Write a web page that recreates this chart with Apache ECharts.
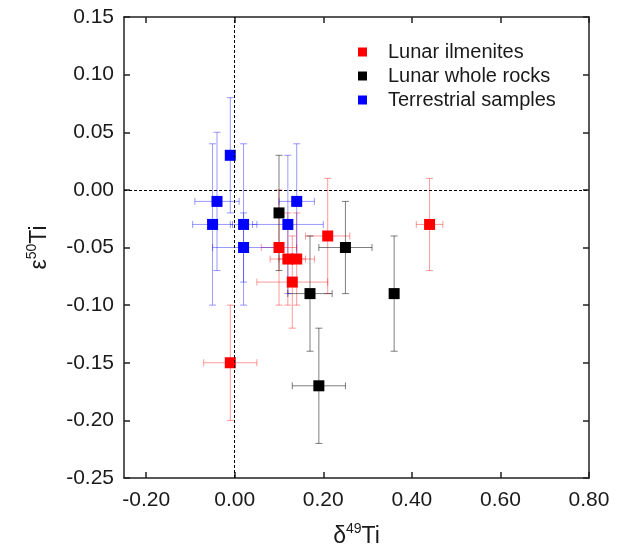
<!DOCTYPE html>
<html>
<head>
<meta charset="utf-8">
<script src="https://cdn.jsdelivr.net/npm/echarts@6/dist/echarts.min.js"></script>
<style>
  html, body { margin: 0; padding: 0; background: #fff; }
  #chart_ti { width: 619px; height: 552px; }
</style>
</head>
<body>
<div id="chart_ti"></div>
<script>
// each row: [δ49Ti, ε50Ti, δ49Ti error, ε50Ti error]
var lunarIlmenites = [
    [0.10, -0.05, 0.04, 0.05],
    [0.12, -0.06, 0.04, 0.04],
    [0.14, -0.06, 0.04, 0.04],
    [0.13, -0.08, 0.08, 0.04],
    [0.21, -0.04, 0.05, 0.05],
    [0.44, -0.03, 0.03, 0.04],
    [-0.01, -0.15, 0.06, 0.05]
];
var lunarWholeRocks = [
    [0.10, -0.02, 0, 0.05],
    [0.25, -0.05, 0.06, 0.04],
    [0.17, -0.09, 0.05, 0.05],
    [0.19, -0.17, 0.06, 0.05],
    [0.36, -0.09, 0, 0.05]
];
var terrestrialSamples = [
    [-0.01, 0.03, 0, 0.05],
    [-0.04, -0.01, 0.05, 0.06],
    [-0.05, -0.03, 0.045, 0.07],
    [0.02, -0.03, 0.03, 0.07],
    [0.02, -0.05, 0.07, 0.03],
    [0.12, -0.03, 0.08, 0.06],
    [0.14, -0.01, 0.04, 0.05]
];
var xTicks = [-0.20, 0.00, 0.20, 0.40, 0.60, 0.80];

var myChart = echarts.init(document.getElementById('chart_ti'));
var font = 'Liberation Sans, Arial, sans-serif';

// 误差棒
function errorBars(color) {
    return function (params, api) {
        var x = api.value(0), y = api.value(1), ex = api.value(2), ey = api.value(3);
        var cap = 3.5;
        var style = { stroke: color, lineWidth: 1 };
        var kids = [];
        if (ex > 0) {
            var l = api.coord([x - ex, y]), r = api.coord([x + ex, y]);
            kids.push({ type: 'line', shape: { x1: l[0], y1: l[1], x2: r[0], y2: r[1] }, style: style });
            kids.push({ type: 'line', shape: { x1: l[0], y1: l[1] - cap, x2: l[0], y2: l[1] + cap }, style: style });
            kids.push({ type: 'line', shape: { x1: r[0], y1: r[1] - cap, x2: r[0], y2: r[1] + cap }, style: style });
        }
        if (ey > 0) {
            var t = api.coord([x, y + ey]), b = api.coord([x, y - ey]);
            kids.push({ type: 'line', shape: { x1: t[0], y1: t[1], x2: b[0], y2: b[1] }, style: style });
            kids.push({ type: 'line', shape: { x1: t[0] - cap, y1: t[1], x2: t[0] + cap, y2: t[1] }, style: style });
            kids.push({ type: 'line', shape: { x1: b[0] - cap, y1: b[1], x2: b[0] + cap, y2: b[1] }, style: style });
        }
        return { type: 'group', children: kids };
    };
}

var groups = [
    ['Lunar ilmenites', lunarIlmenites, '#ff0000', 'rgba(255,0,0,0.4)'],
    ['Lunar whole rocks', lunarWholeRocks, '#000000', 'rgba(0,0,0,0.5)'],
    ['Terrestrial samples', terrestrialSamples, '#0000ff', 'rgba(0,0,255,0.4)']
];

var series = [];
groups.forEach(function (g) {
    series.push({
        type: 'custom',
        renderItem: errorBars(g[3]),
        encode: { x: 0, y: 1 },
        data: g[1],
        silent: true,
        z: 2
    });
});
groups.forEach(function (g) {
    series.push({
        name: g[0],
        type: 'scatter',
        symbol: 'rect',
        symbolSize: 11,
        itemStyle: { color: g[2], opacity: 1 },
        data: g[1].map(function (d) { return [d[0], d[1]]; }),
        z: 3
    });
});
// 零线
series[0].markLine = {
    silent: true,
    symbol: 'none',
    label: { show: false },
    lineStyle: { color: '#000', type: [3, 2], width: 1 },
    data: [{ xAxis: 0 }, { yAxis: 0 }]
};

var axisCommon = {
    axisLine: { show: true, onZero: false, lineStyle: { color: '#222', width: 1.5 } },
    axisTick: { show: true, inside: true, length: 6, lineStyle: { color: '#222', width: 1.5 } },
    splitLine: { show: false },
    axisLabel: { color: '#1a1a1a', fontSize: 21, fontFamily: font }
};
var nameRich = {
    g: { fontSize: 23, fontFamily: font, color: '#1a1a1a' },
    s: { fontSize: 14, fontFamily: font, color: '#1a1a1a', padding: [0, 0, 16, 0] },
    t: { fontSize: 23, fontFamily: font, color: '#1a1a1a' }
};

var option = {
    animation: false,
    backgroundColor: '#fff',
    grid: { left: 124, right: 30, top: 17, bottom: 74, outerBoundsMode: 'none', containLabel: false },
    legend: {
        orient: 'vertical',
        left: 353,
        top: 37,
        itemWidth: 9,
        itemHeight: 9,
        itemGap: 4,
        icon: 'rect',
        textStyle: { fontSize: 20, fontFamily: font, color: '#1a1a1a', padding: [0, 0, 0, 16] },
        data: groups.map(function (g) { return g[0]; })
    },
    xAxis: [
        Object.assign({}, axisCommon, {
            type: 'value', min: -0.25, max: 0.80, position: 'bottom',
            axisTick: Object.assign({}, axisCommon.axisTick, { customValues: xTicks }),
            axisLabel: Object.assign({}, axisCommon.axisLabel, {
                customValues: xTicks, margin: 12,
                formatter: function (v) { return v.toFixed(2); }
            }),
            name: '{g|δ}{s|49}{t|Ti}',
            nameLocation: 'middle',
            nameGap: 44,
            nameTextStyle: { rich: nameRich }
        }),
        Object.assign({}, axisCommon, {
            type: 'value', min: -0.25, max: 0.80, position: 'top',
            axisTick: Object.assign({}, axisCommon.axisTick, { customValues: xTicks }),
            axisLabel: { show: false }
        })
    ],
    yAxis: [
        Object.assign({}, axisCommon, {
            type: 'value', min: -0.25, max: 0.15, interval: 0.05, position: 'left',
            axisLabel: Object.assign({}, axisCommon.axisLabel, {
                margin: 10,
                formatter: function (v) { return v.toFixed(2); }
            }),
            name: '{g|ε}{s|50}{t|Ti}',
            nameLocation: 'middle',
            nameGap: 69,
            nameTextStyle: { rich: nameRich }
        }),
        Object.assign({}, axisCommon, {
            type: 'value', min: -0.25, max: 0.15, interval: 0.05, position: 'right',
            axisLabel: { show: false }
        })
    ],
    series: series
};

myChart.setOption(option);
window.addEventListener('resize', function () {
    myChart.resize();
});
</script>
</body>
</html>
